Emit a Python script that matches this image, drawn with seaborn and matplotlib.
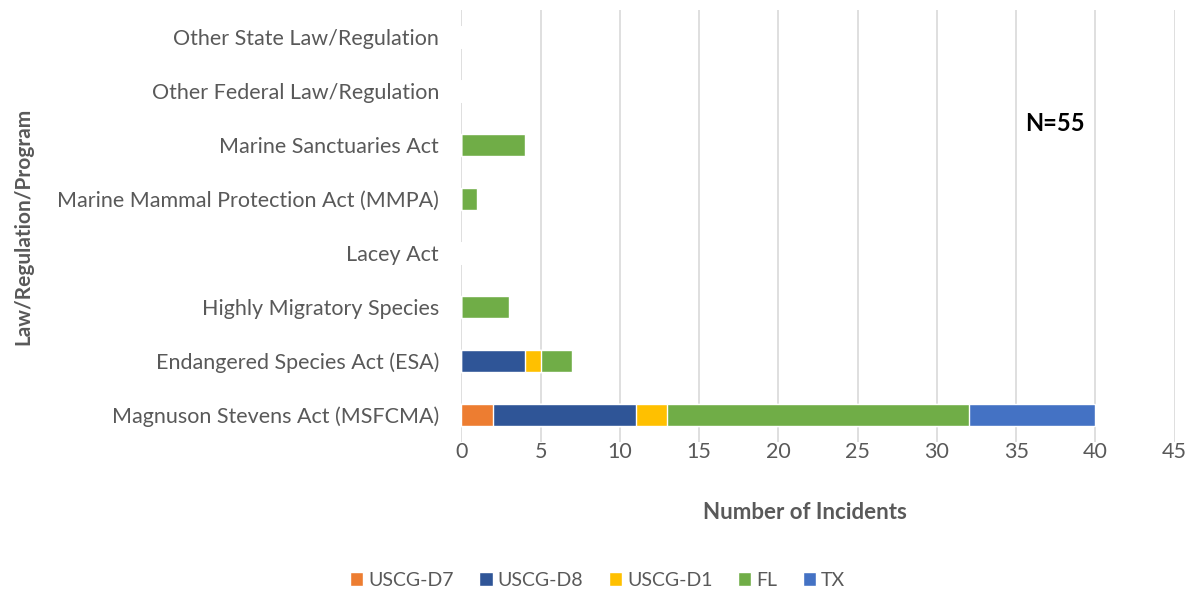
import matplotlib
matplotlib.use('Agg')
import matplotlib.pyplot as plt
import seaborn as sns
import pandas as pd

categories = ['Magnuson Stevens Act (MSFCMA)', 'Endangered Species Act (ESA)',
              'Highly Migratory Species', 'Lacey Act',
              'Marine Mammal Protection Act (MMPA)', 'Marine Sanctuaries Act',
              'Other Federal Law/Regulation', 'Other State Law/Regulation']
series = ['USCG-D7', 'USCG-D8', 'USCG-D1', 'FL', 'TX']
d7 = [2, 0, 0, 0, 0, 0, 0, 0]
d8 = [9, 4, 0, 0, 0, 0, 0, 0]
d1 = [2, 1, 0, 0, 0, 0, 0, 0]
fl = [19, 2, 3, 0, 1, 4, 0, 0]
tx = [8, 0, 0, 0, 0, 0, 0, 0]
colors = ['#ED7D31', '#2F5597', '#FFC000', '#70AD47', '#4472C4']

sns.set_style('white')
plt.rcParams['font.family'] = ['Lato', 'DejaVu Sans']

df = pd.DataFrame({'USCG-D7': d7, 'USCG-D8': d8, 'USCG-D1': d1, 'FL': fl, 'TX': tx},
                  index=categories)
# top category first in seaborn order
order = categories[::-1]

fig = plt.figure(figsize=(11.95, 5.95), dpi=100)
ax = fig.add_axes([0.386, 0.257, 0.597, 0.726])

left = pd.Series(0, index=categories)
for i, (s, c) in enumerate(zip(series, colors)):
    cum = left + df[s]
    plot_df = pd.DataFrame({'cat': categories, 'val': cum.values})
    sns.barplot(data=plot_df, y='cat', x='val', order=order, color=c,
                width=0.41, ax=ax, zorder=10 - i, saturation=1, label=s)
    left = cum

handles, labels = ax.get_legend_handles_labels()
if ax.get_legend() is not None:
    ax.get_legend().remove()

ax.set_xlim(0, 45)
ax.set_xticks(range(0, 46, 5))
ax.grid(axis='x', color='#D9D9D9', linewidth=1.2)
ax.set_axisbelow(True)
for sp in ax.spines.values():
    sp.set_visible(False)
ax.tick_params(axis='both', length=0, labelsize=15.5, labelcolor='#595959')
ax.tick_params(axis='y', pad=16)
ax.tick_params(axis='x', pad=0)
ax.set_ylabel('Law/Regulation/Program', fontsize=15, fontweight='bold',
              color='#595959')
ax.yaxis.set_label_coords(-0.60, 0.5)
ax.set_xlabel('Number of Incidents', fontsize=16, fontweight='bold',
              color='#595959')
ax.xaxis.set_label_coords(0.482, -0.138)
ax.text(0.832, 0.738, 'N=55', transform=ax.transAxes, fontsize=17,
        fontweight='bold', color='black', ha='center', va='center')

fig.legend(handles, labels, loc='center', bbox_to_anchor=(0.5, 0.025), ncol=5,
           frameon=False, fontsize=14, labelcolor='#595959',
           handlelength=0.7, handleheight=0.7, handletextpad=0.25,
           columnspacing=1.3)

fig.savefig('out.png', dpi=100)
